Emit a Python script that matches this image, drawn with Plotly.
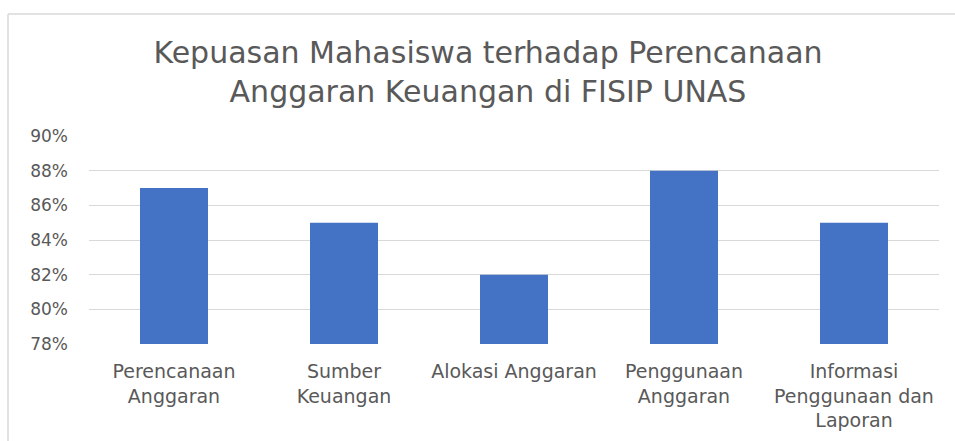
import plotly.graph_objects as go

categories = ["Perencanaan<br>Anggaran", "Sumber<br>Keuangan", "Alokasi Anggaran",
              "Penggunaan<br>Anggaran", "Informasi<br>Penggunaan dan<br>Laporan"]
values = [0.87, 0.85, 0.82, 0.88, 0.85]

W, H = 955, 441
L, R, T, B = 89, 16, 136, 97
pw, ph = W - L - R, H - T - B

fig = go.Figure(go.Bar(x=categories, y=values, marker=dict(color="#4472C4", line=dict(width=0)),
                       width=0.4))

font = "DejaVu Sans"
fig.update_layout(
    width=W, height=H,
    margin=dict(l=L, r=R, t=T, b=B, autoexpand=False),
    paper_bgcolor="white", plot_bgcolor="white",
    showlegend=False,
    bargap=0.6,
    title=dict(text="Kepuasan Mahasiswa terhadap Perencanaan<br>Anggaran Keuangan di FISIP UNAS",
               x=488 / W, xanchor="center", y=1 - 63 / H, yanchor="middle",
               font=dict(family=font, size=30, color="#595959")),
    font=dict(family=font, color="#595959"),
)
fig.update_yaxes(range=[0.78, 0.90], dtick=0.02, tickformat=".0%", showgrid=True,
                 gridcolor="#D9D9D9", gridwidth=1, zeroline=False, showline=False,
                 tickfont=dict(size=17, color="#595959"), ticklabelstandoff=20, fixedrange=True,
                 automargin=False)
fig.update_xaxes(showgrid=False, showline=False, tickfont=dict(size=19, color="#595959"),
                 ticklabelstandoff=14, fixedrange=True, automargin=False)

# outer chart frame (left and top edges)
fx0 = (8 - L) / pw
fy1 = (H - B - 14) / ph
fig.add_shape(type="line", xref="paper", yref="paper", x0=fx0, x1=fx0, y0=-1, y1=fy1,
              line=dict(color="#D9D9D9", width=1.5))
fig.add_shape(type="line", xref="paper", yref="paper", x0=fx0, x1=1.2, y0=fy1, y1=fy1,
              line=dict(color="#D9D9D9", width=1.5))

fig.write_html("out.html", config={"displayModeBar": False},
               post_script="document.body.style.margin='0';")
